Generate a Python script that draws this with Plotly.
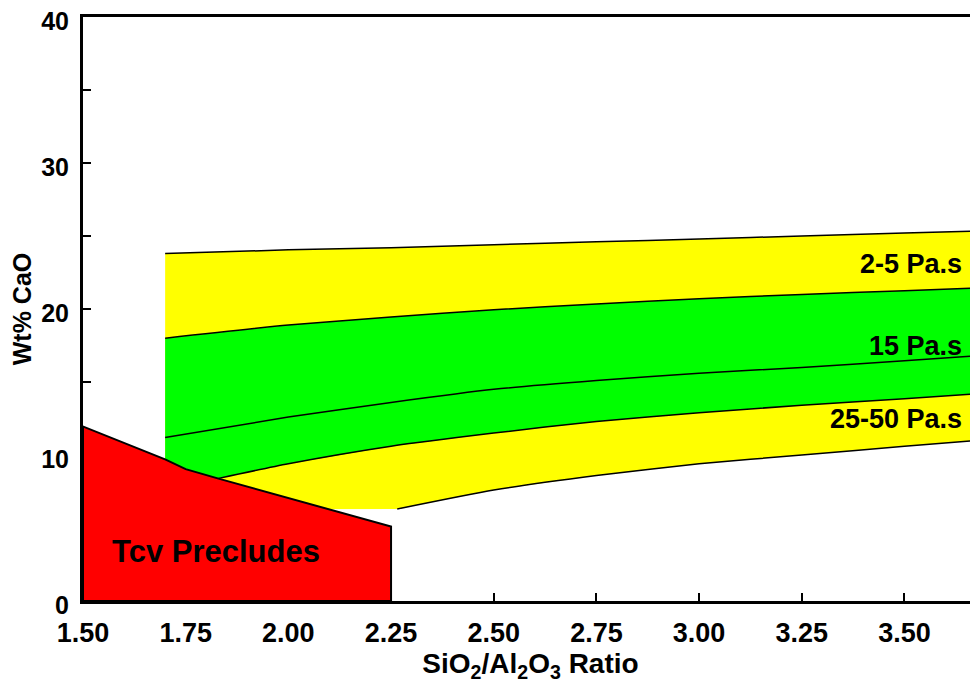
import plotly.graph_objects as go

# ---- data ----
x_top = [1.70, 2.00, 2.25, 2.50, 2.75, 3.00, 3.25, 3.50, 3.68]
y_top_25 = [23.8, 24.05, 24.2, 24.4, 24.6, 24.8, 25.0, 25.2, 25.35]      # upper 2-5 Pa.s
y_low_25 = [18.0, 18.9, 19.45, 19.95, 20.35, 20.7, 21.0, 21.25, 21.45]   # lower 2-5 Pa.s
y_15 = [11.2, 12.6, 13.6, 14.5, 15.1, 15.6, 16.0, 16.45, 16.8]           # 15 Pa.s

x_25 = [1.83, 2.00, 2.25, 2.50, 2.75, 3.00, 3.25, 3.50, 3.68]
y_25 = [8.4, 9.4, 10.6, 11.5, 12.3, 12.9, 13.4, 13.85, 14.2]             # 25 Pa.s

x_50 = [2.265, 2.50, 2.75, 3.00, 3.25, 3.50, 3.68]
y_50 = [6.3, 7.6, 8.6, 9.4, 10.0, 10.6, 11.0]                           # 50 Pa.s

x_band_left = 1.70
y_band_floor = 6.28

x_tcv = [1.50, 1.50, 1.70, 1.75, 1.83, 2.25, 2.25]
y_tcv = [0.0, 11.95, 9.7, 9.03, 8.38, 5.1, 0.0]

band_labels = ["2-5 Pa.s", "15 Pa.s", "25-50 Pa.s"]
band_label_y = [23.1, 17.5, 12.5]
tcv_label = "Tcv Precludes"

x_range = [1.5, 3.679]
y_range = [0, 40]
x_ticks = [1.50, 1.75, 2.00, 2.25, 2.50, 2.75, 3.00, 3.25, 3.50]
x_tick_text = ["1.50", "1.75", "2.00", "2.25", "2.50", "2.75", "3.00", "3.25", "3.50"]
y_ticks = [0, 10, 20, 30, 40]
y_tick_text = ["0", "10", "20", "30", "40"]

FONT = "Liberation Sans, Arial, sans-serif"

fig = go.Figure()

# yellow band (whole 2-5 .. 25-50 region)
yx = x_top + x_50[::-1] + [x_band_left]
yy = y_top_25 + y_50[::-1] + [y_band_floor]
fig.add_trace(go.Scatter(x=yx, y=yy, fill="toself", fillcolor="#FFFF00",
                         mode="none", hoverinfo="skip", showlegend=False))

# green band
gx = x_top + x_25[::-1] + [x_band_left]
gy = y_low_25 + y_25[::-1] + [y_25[0]]
fig.add_trace(go.Scatter(x=gx, y=gy, fill="toself", fillcolor="#00FF00",
                         mode="none", hoverinfo="skip", showlegend=False))

# Tcv precludes polygon
fig.add_trace(go.Scatter(x=x_tcv + [x_tcv[0]], y=y_tcv + [y_tcv[0]], fill="toself",
                         fillcolor="#FF0000", mode="lines",
                         line=dict(color="black", width=2),
                         hoverinfo="skip", showlegend=False))

# viscosity contour lines
for xs, ys in [(x_top, y_top_25), (x_top, y_low_25), (x_top, y_15),
               (x_25, y_25), (x_50, y_50)]:
    fig.add_trace(go.Scatter(x=xs, y=ys, mode="lines",
                             line=dict(color="black", width=1.5, shape="spline", smoothing=0.6),
                             hoverinfo="skip", showlegend=False))

for txt, yv in zip(band_labels, band_label_y):
    fig.add_annotation(x=3.645, y=yv, text="<b>" + txt + "</b>", showarrow=False,
                       xanchor="right", yanchor="middle",
                       font=dict(family=FONT, size=27, color="black"))

fig.add_annotation(x=1.825, y=3.4, text="<b>" + tcv_label + "</b>", showarrow=False,
                   font=dict(family=FONT, size=31, color="black"))

fig.update_layout(
    width=970, height=680,
    margin=dict(l=75, r=0, t=9, b=87),
    plot_bgcolor="white", paper_bgcolor="white",
    font=dict(family=FONT, color="black"),
    xaxis=dict(range=x_range, tickvals=x_ticks,
               ticktext=["<b>" + t + "</b>" for t in x_tick_text],
               ticks="inside", ticklen=8, tickwidth=1.5, tickcolor="black",
               showline=True, linecolor="black", linewidth=3, mirror=True,
               showgrid=False, zeroline=False, layer="below traces",
               automargin=False, ticklabelstandoff=6, ticklabeloverflow="allow",
               tickfont=dict(family=FONT, size=27, color="black"),
               title=dict(text="<b>SiO<sub>2</sub>/Al<sub>2</sub>O<sub>3</sub> Ratio</b>",
                          font=dict(family=FONT, size=28, color="black"), standoff=5)),
    yaxis=dict(range=y_range, tickvals=y_ticks,
               ticktext=["<b>" + t + "</b>" for t in y_tick_text],
               ticks="inside", ticklen=8, tickwidth=1.5, tickcolor="black",
               minor=dict(dtick=5, ticks="inside", ticklen=8, tickwidth=1.5, tickcolor="black"),
               showline=True, linecolor="black", linewidth=3, mirror=False,
               showgrid=False, zeroline=False, layer="below traces",
               automargin=False, ticklabelstandoff=6, ticklabeloverflow="allow",
               ticklabelshift=4,
               tickfont=dict(family=FONT, size=25, color="black"),
               title=dict(text="<b>Wt% CaO</b>", font=dict(family=FONT, size=25, color="black"),
                          standoff=4)),
)

fig.write_html("out.html")
